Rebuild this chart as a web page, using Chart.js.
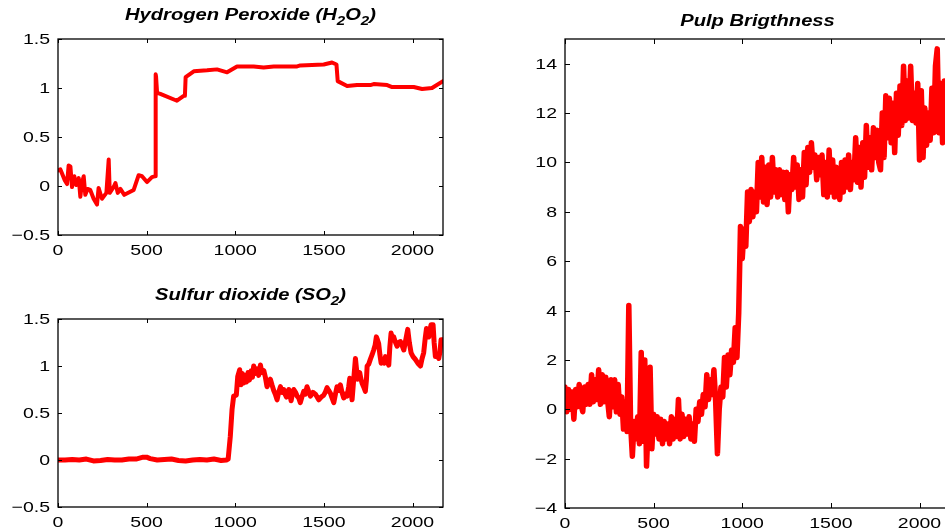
<!DOCTYPE html>
<html>
<head>
<meta charset="utf-8">
<title>Bleaching process signals</title>
<script src="https://cdn.jsdelivr.net/npm/chart.js@4.4.1/dist/chart.umd.min.js"></script>
<style>
  html, body { margin: 0; padding: 0; background: #fff; overflow: hidden; }
  .plot { position: absolute; left: 0; top: 0; height: 531px; }
</style>
</head>
<body>
<div class="plot" style="width:945px"><canvas id="h2o2Chart"></canvas></div>
<div class="plot" style="width:945px"><canvas id="so2Chart"></canvas></div>
<div class="plot" style="width:960px"><canvas id="pulpChart"></canvas></div>
<script>
// sample index -> hydrogen peroxide
const h2o2X = [0, 13, 38, 51, 60, 70, 79, 92, 103, 117,
  126, 135, 145, 154, 167, 182, 201, 220, 229, 248,
  273, 286, 292, 314, 324, 337, 352, 374, 427, 455,
  474, 502, 530, 549, 551, 553, 559, 577, 671, 709,
  716, 720, 766, 841, 897, 954, 1010, 1104, 1160, 1217,
  1349, 1367, 1499, 1546, 1571, 1578, 1631, 1687, 1762, 1781,
  1857, 1885, 2007, 2054, 2110, 2172];
const h2o2Y = [0.16, 0.17, 0.06, 0.02, 0.21, 0.2, -0.01, 0.1, 0.01, 0.08,
  -0.11, 0.03, 0.1, -0.09, -0.03, -0.04, -0.13, -0.19, -0.02, -0.13,
  -0.07, 0.27, -0.07, -0.01, 0.03, -0.07, -0.03, -0.09, -0.04, 0.11,
  0.1, 0.04, 0.09, 0.1, 1.14, 1.12, 0.95, 0.94, 0.87, 0.92,
  0.92, 1.11, 1.17, 1.18, 1.19, 1.16, 1.22, 1.22, 1.21, 1.22,
  1.22, 1.23, 1.24, 1.26, 1.24, 1.07, 1.02, 1.03, 1.03, 1.04,
  1.03, 1.01, 1.01, 0.99, 1.0, 1.07];

// sample index -> sulfur dioxide
const so2X = [0, 40, 80, 120, 160, 200, 240, 280, 320, 360,
  400, 440, 480, 500, 520, 560, 600, 640, 680, 720,
  760, 800, 840, 880, 920, 950, 960, 972, 982, 991,
  1006, 1014, 1025, 1033, 1040, 1048, 1056, 1064, 1072, 1080,
  1090, 1097, 1104, 1112, 1123, 1132, 1142, 1150, 1161, 1170,
  1179, 1188, 1198, 1207, 1217, 1226, 1236, 1245, 1255, 1264,
  1273, 1281, 1289, 1296, 1302, 1308, 1315, 1322, 1330, 1340,
  1349, 1358, 1367, 1376, 1386, 1395, 1405, 1414, 1424, 1438,
  1452, 1462, 1471, 1485, 1499, 1508, 1518, 1527, 1537, 1546,
  1556, 1565, 1574, 1583, 1593, 1602, 1612, 1621, 1631, 1640,
  1646, 1652, 1659, 1668, 1678, 1685, 1691, 1697, 1702, 1708,
  1715, 1724, 1734, 1740, 1744, 1753, 1762, 1772, 1781, 1789,
  1796, 1802, 1809, 1816, 1823, 1832, 1840, 1847, 1856, 1866,
  1872, 1879, 1886, 1894, 1902, 1913, 1922, 1932, 1941, 1951,
  1962, 1973, 1982, 1992, 2003, 2016, 2030, 2045, 2054, 2063,
  2072, 2079, 2085, 2092, 2098, 2105, 2116, 2122, 2129, 2138,
  2148, 2155, 2161, 2172];
const so2Y = [0, 0, 0.005, 0, 0.01, -0.01, -0.005, 0.005, 0, 0,
  0.01, 0.01, 0.03, 0.03, 0.015, 0, 0.005, 0.01, -0.005, -0.01,
  0, 0.005, 0, 0.01, -0.005, 0, 0.01, 0.25, 0.54, 0.68,
  0.69, 0.89, 0.96, 0.8, 0.92, 0.82, 0.9, 0.83, 0.93, 0.85,
  0.95, 0.88, 1.0, 0.92, 0.97, 0.9, 1.01, 0.93, 0.95, 0.88,
  0.78, 0.82, 0.86, 0.8, 0.74, 0.7, 0.64, 0.72, 0.78, 0.72,
  0.75, 0.7, 0.67, 0.73, 0.75, 0.7, 0.63, 0.7, 0.75, 0.72,
  0.68, 0.66, 0.61, 0.67, 0.73, 0.7, 0.78, 0.73, 0.68, 0.72,
  0.7, 0.67, 0.64, 0.67, 0.69, 0.72, 0.77, 0.74, 0.71, 0.66,
  0.61, 0.7, 0.78, 0.74, 0.8, 0.72, 0.66, 0.7, 0.68, 0.78,
  0.87, 0.75, 0.64, 0.85, 1.08, 0.95, 0.86, 0.9, 0.93, 0.87,
  0.82, 0.78, 0.73, 0.85, 1.0, 1.02, 1.07, 1.12, 1.17, 1.22,
  1.31, 1.28, 1.24, 1.12, 1.03, 1.06, 1.03, 1.1, 1.05, 1.01,
  1.2, 1.35, 1.3, 1.31, 1.26, 1.21, 1.25, 1.26, 1.22, 1.17,
  1.28, 1.39, 1.25, 1.14, 1.1, 1.07, 1.03, 1.0, 1.08, 1.14,
  1.3, 1.4, 1.33, 1.31, 1.38, 1.44, 1.44, 1.25, 1.1, 1.12,
  1.08, 1.15, 1.28, 1.28];

// pulp brightness, one reading every 10 samples
const pulpStep = 10;
const pulpValues = [
  0.9, -0.1, 0.8, 0.0, 0.7, -0.4, 0.8, 0.1, 1.0, 0.2,
  -0.1, 0.9, 0.2, 1.0, 0.2, 1.4, 0.3, 1.2, 0.4, 1.6,
  0.2, 1.4, 0.3, 1.3, 0.4, -0.3, 1.2, 0.1, 1.2, -0.1,
  1.0, -0.2, 0.5, -0.8, 0.3, -0.9, 4.2, -0.6, -1.9, -0.5,
  -1.2, -0.3, -1.4, 2.3, -1.3, 2.0, -2.3, -0.4, 1.7, -1.6,
  -0.2, -1.0, -0.3, -1.2, -0.4, -1.4, -0.5, -1.2, -0.6, -1.4,
  -0.3, -1.2, -0.4, -1.1, 0.4, -1.2, -0.2, -1.1, -0.4, -1.0,
  -0.3, -1.2, -0.6, -1.3, 0.0, -0.5, 0.3, -0.2, 0.6, 0.1,
  1.4, 0.4, 1.2, 0.6, 1.6, 0.3, -1.8, 0.0, 0.9, 0.5,
  2.1, 0.9, 2.2, 1.4, 2.4, 1.9, 3.3, 2.1, 3.9, 7.4,
  6.1, 7.3, 6.6, 8.8, 7.6, 8.9, 7.8, 8.8, 8.0, 10.0,
  8.6, 10.2, 8.4, 9.8, 8.3, 9.9, 8.6, 10.2, 8.8, 9.7,
  8.6, 9.7, 8.7, 9.6, 8.5, 9.6, 8.0, 9.5, 8.9, 10.2,
  9.0, 9.9, 8.5, 9.7, 8.6, 10.4, 9.1, 10.6, 9.6, 10.8,
  9.8, 10.3, 9.3, 10.2, 9.5, 10.3, 8.7, 10.0, 8.6, 10.5,
  8.8, 10.1, 8.6, 9.8, 8.9, 8.5, 10.0, 8.8, 10.1, 9.0,
  10.3, 8.9, 10.0, 9.3, 11.0, 9.2, 10.6, 9.0, 10.8, 9.4,
  11.5, 9.8, 11.0, 9.7, 11.4, 10.2, 11.3, 10.0, 9.7, 12.0,
  10.2, 12.7, 11.0, 12.6, 10.8, 12.4, 10.4, 12.8, 11.1, 13.1,
  11.5, 13.9, 11.7, 13.3, 11.8, 13.9, 11.7, 12.8, 11.6, 13.2,
  10.1, 12.9, 10.2, 12.2, 10.7, 12.0, 10.9, 13.0, 11.2, 13.9,
  14.6, 11.2, 13.2, 10.8, 13.3, 10.9, 12.0, 11.4];

// axis ticks
const sampleTicks = [0, 500, 1000, 1500, 2000];
const gasTicks = [-0.5, 0, 0.5, 1, 1.5];
const pulpTicks = [-4, -2, 0, 2, 4, 6, 8, 10, 12, 14];

// titles: [text, isSubscript]
const h2o2Title = [['Hydrogen Peroxide (H', 0], ['2', 1], ['O', 0], ['2', 1], [')', 0]];
const so2Title = [['Sulfur dioxide (SO', 0], ['2', 1], [')', 0]];
const pulpTitle = [['Pulp Brigthness', 0]];

const FONT = '"Liberation Sans", Arial, Helvetica, sans-serif';
const TEXT_STRETCH = 1.3;   // labels are set a little wide

function fmt(v) {
  return String(v).replace('-', '\u2212');
}

function wideText(ctx, s, x, y, sx) {
  ctx.save();
  ctx.translate(x, y);
  ctx.scale(sx, 1);
  ctx.fillText(s, 0, 0);
  ctx.restore();
}

// boxed axes with inward tick marks on all four sides, labels outside
const framePlugin = {
  id: 'frame',
  afterDatasetsDraw(chart, args, opts) {
    const { ctx, chartArea: a, scales: { x, y } } = chart;
    const len = opts.tickLength;
    ctx.save();
    ctx.strokeStyle = '#000';
    ctx.lineWidth = 1;
    ctx.beginPath();
    x.ticks.forEach(t => {
      const px = Math.round(x.getPixelForValue(t.value)) + 0.5;
      ctx.moveTo(px, a.bottom); ctx.lineTo(px, a.bottom - len);
      ctx.moveTo(px, a.top); ctx.lineTo(px, a.top + len);
    });
    y.ticks.forEach(t => {
      const py = Math.round(y.getPixelForValue(t.value)) + 0.5;
      ctx.moveTo(a.left, py); ctx.lineTo(a.left + len, py);
      ctx.moveTo(a.right, py); ctx.lineTo(a.right - len, py);
    });
    ctx.stroke();
    ctx.lineWidth = 1.3;
    ctx.strokeRect(a.left, a.top, a.right - a.left, a.bottom - a.top);

    ctx.fillStyle = '#000';
    ctx.font = '15px ' + FONT;
    ctx.textBaseline = 'alphabetic';
    ctx.textAlign = 'center';
    x.ticks.forEach(t => {
      wideText(ctx, fmt(t.value), x.getPixelForValue(t.value), a.bottom + 20, TEXT_STRETCH);
    });
    ctx.textAlign = 'right';
    y.ticks.forEach(t => {
      wideText(ctx, fmt(t.value), a.left - 8, y.getPixelForValue(t.value) + 5, TEXT_STRETCH);
    });
    ctx.restore();
  }
};

// bold italic title with subscripts, centred over the plot area
const subTitlePlugin = {
  id: 'subTitle',
  afterDraw(chart, args, opts) {
    const { ctx, chartArea: a } = chart;
    const sx = 1.26;
    const big = 'italic bold 16px ' + FONT;
    const small = 'italic bold 12px ' + FONT;
    ctx.save();
    let w = 0;
    opts.parts.forEach(([s, sub]) => {
      ctx.font = sub ? small : big;
      w += ctx.measureText(s).width * sx;
    });
    let cx = (a.left + a.right) / 2 - w / 2;
    const base = a.top - opts.gap;
    ctx.fillStyle = '#000';
    ctx.textAlign = 'left';
    opts.parts.forEach(([s, sub]) => {
      ctx.font = sub ? small : big;
      wideText(ctx, s, cx, base + (sub ? 5 : 0), sx);
      cx += ctx.measureText(s).width * sx;
    });
    ctx.restore();
  }
};

function makeChart(id, xs, ys, cfg) {
  const points = xs.map((x, i) => ({ x: x, y: ys[i] }));
  return new Chart(document.getElementById(id), {
    type: 'line',
    data: {
      datasets: [{
        data: points,
        borderColor: '#ff0000',
        borderWidth: cfg.lineWidth,
        borderJoinStyle: 'round',
        borderCapStyle: 'round',
        pointRadius: 0,
        tension: 0,
        fill: false
      }]
    },
    options: {
      responsive: true,
      maintainAspectRatio: false,
      animation: false,
      events: [],
      layout: { autoPadding: false, padding: cfg.padding },
      scales: {
        x: {
          type: 'linear',
          min: 0,
          max: 2172,
          afterBuildTicks: s => { s.ticks = sampleTicks.map(v => ({ value: v })); },
          afterFit: s => { s.height = cfg.xHeight; },
          grid: { display: false, drawTicks: false },
          border: { display: false },
          ticks: { display: false }
        },
        y: {
          type: 'linear',
          min: cfg.yMin,
          max: cfg.yMax,
          afterBuildTicks: s => { s.ticks = cfg.yTicks.map(v => ({ value: v })); },
          afterFit: s => { s.width = 58; },
          grid: { display: false, drawTicks: false },
          border: { display: false },
          ticks: { display: false }
        }
      },
      plugins: {
        legend: { display: false },
        tooltip: { enabled: false },
        frame: { tickLength: cfg.tickLength },
        subTitle: { parts: cfg.title, gap: cfg.titleGap }
      }
    },
    plugins: [framePlugin, subTitlePlugin]
  });
}

makeChart('h2o2Chart', h2o2X, h2o2Y, {
  padding: { left: 0, top: 39, right: 502, bottom: 266 },
  xHeight: 30, yMin: -0.5, yMax: 1.5, yTicks: gasTicks,
  lineWidth: 4, tickLength: 4, title: h2o2Title, titleGap: 19
});

makeChart('so2Chart', so2X, so2Y, {
  padding: { left: 0, top: 319, right: 502, bottom: 0 },
  xHeight: 24, yMin: -0.5, yMax: 1.5, yTicks: gasTicks,
  lineWidth: 5, tickLength: 4, title: so2Title, titleGap: 19
});

makeChart('pulpChart', pulpValues.map((v, i) => i * pulpStep), pulpValues, {
  padding: { left: 507, top: 39, right: 10, bottom: 0 },
  xHeight: 23, yMin: -4, yMax: 15, yTicks: pulpTicks,
  lineWidth: 5.5, tickLength: 5, title: pulpTitle, titleGap: 13
});
</script>
</body>
</html>
